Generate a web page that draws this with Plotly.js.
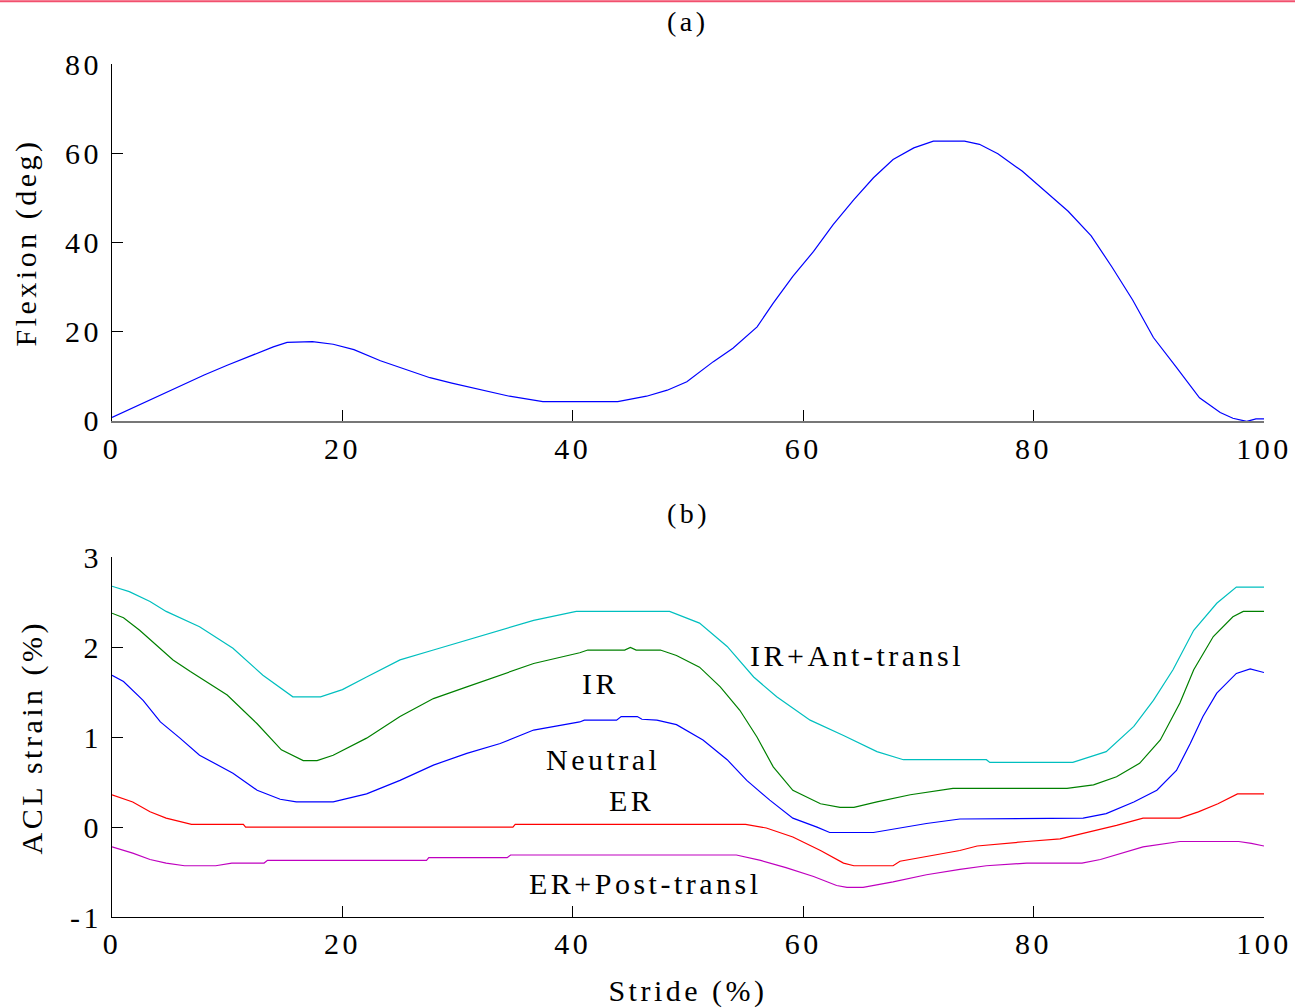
<!DOCTYPE html>
<html>
<head>
<meta charset="utf-8">
<script src="https://cdn.plot.ly/plotly-3.0.1.min.js"></script>
<style>
html, body { margin: 0; padding: 0; background: #fff; }
#plot { width: 1295px; height: 1008px; }
svg text { letter-spacing: 3.5px; }
</style>
</head>
<body>
<div id="plot"></div>
<script>
// ---- Data ----
const strideTop = [0, 2, 4, 6, 8, 10, 12, 14, 15.2, 17.4, 19.2, 21, 23.3, 25.5, 27.6, 29.5, 31.9, 34.5, 37.4, 43.9, 46.4, 48.2, 49.9, 52.2, 53.9, 56, 57.4, 59.1, 60.9, 62.6, 64.4, 66.1, 67.8, 69.6, 71.3, 74, 75.3, 76.9, 79, 81, 83, 85, 86.8, 88.6, 90.4, 92.4, 94.4, 96.2, 97.3, 98.5, 99.3, 100];
const flexion = [0.8, 3.2, 5.6, 8.0, 10.3, 12.5, 14.6, 16.6, 17.6, 17.8, 17.2, 16.0, 13.5, 11.5, 9.7, 8.5, 7.05, 5.55, 4.36, 4.36, 5.55, 6.9, 8.8, 13.3, 16.3, 21.1, 26.4, 32.4, 38.0, 44.0, 49.6, 54.5, 58.6, 61.2, 62.7, 62.7, 62.0, 59.9, 56, 51.5, 47, 41.5, 34.5, 27.1, 18.7, 12.0, 5.2, 1.9, 0.6, -0.1, 0.45, 0.45];

const strideIRAnt = [0, 1.5, 3.3, 4.7, 7.6, 10.5, 13.1, 15.7, 18.1, 20, 22.1, 25, 27.9, 30.8, 33.7, 36.6, 40.3, 48.4, 51, 53.4, 55.7, 57.7, 60.6, 63.5, 66.4, 68.7, 75.9, 76.2, 83.4, 86.3, 88.7, 90.4, 92.1, 93.9, 95.9, 97.6, 100];
const strainIRAnt = [2.68, 2.62, 2.51, 2.40, 2.23, 1.99, 1.69, 1.45, 1.45, 1.53, 1.67, 1.86, 1.97, 2.08, 2.19, 2.30, 2.40, 2.40, 2.27, 2.01, 1.67, 1.45, 1.19, 1.02, 0.84, 0.75, 0.75, 0.72, 0.72, 0.84, 1.12, 1.41, 1.75, 2.19, 2.49, 2.67, 2.67];

const strideIR = [0, 1, 2.4, 5.3, 6.8, 10, 12.6, 14.7, 16.6, 17.8, 19.2, 22.1, 25, 27.9, 30.8, 33.7, 36.6, 40.6, 41.3, 44.5, 45, 45.5, 47.6, 49, 51, 52.8, 54.5, 56, 57.4, 59.1, 61.5, 63.2, 64.4, 66.4, 69.3, 73, 82.9, 85.2, 87.2, 89.2, 91, 92.7, 93.9, 95.6, 97.3, 98.2, 100];
const strainIR = [2.38, 2.33, 2.19, 1.86, 1.73, 1.47, 1.15, 0.86, 0.74, 0.74, 0.80, 0.99, 1.23, 1.43, 1.56, 1.69, 1.82, 1.94, 1.97, 1.97, 2.0, 1.97, 1.97, 1.91, 1.78, 1.56, 1.30, 1.00, 0.67, 0.41, 0.26, 0.22, 0.22, 0.28, 0.36, 0.43, 0.43, 0.47, 0.56, 0.71, 0.97, 1.38, 1.75, 2.12, 2.34, 2.40, 2.40];

const strideNeutral = [0, 1, 2.7, 4.2, 5.9, 7.6, 10.5, 12.6, 14.6, 16, 19.2, 22.1, 25, 27.9, 30.8, 33.7, 36.6, 40.6, 41, 43.8, 44.2, 45.6, 46, 47.3, 49, 51.3, 53.4, 55.1, 57.1, 59.1, 61.2, 62.3, 66.1, 67.8, 70.7, 73.6, 84.3, 86.3, 88.7, 90.7, 92.4, 93.6, 94.7, 95.9, 97.6, 98.8, 100];
const strainNeutral = [1.69, 1.62, 1.41, 1.17, 0.99, 0.80, 0.60, 0.41, 0.31, 0.28, 0.28, 0.37, 0.52, 0.69, 0.82, 0.93, 1.08, 1.17, 1.19, 1.19, 1.23, 1.23, 1.20, 1.19, 1.14, 0.97, 0.75, 0.52, 0.30, 0.10, 0.0, -0.06, -0.06, -0.02, 0.04, 0.09, 0.10, 0.15, 0.28, 0.41, 0.63, 0.93, 1.23, 1.49, 1.71, 1.76, 1.72];

const strideER = [0, 1.8, 3.3, 4.7, 6.9, 11.4, 11.6, 34.8, 35, 55, 56.8, 59.1, 61.5, 63.5, 64.4, 67.8, 68.4, 70.7, 73.6, 75.1, 77.4, 79.4, 82.3, 84.9, 87.2, 89.5, 92.7, 94.3, 96, 97.7, 100];
const strainER = [0.36, 0.28, 0.17, 0.10, 0.03, 0.03, 0.0, 0.0, 0.03, 0.03, -0.01, -0.11, -0.26, -0.40, -0.43, -0.43, -0.38, -0.33, -0.26, -0.21, -0.18, -0.16, -0.13, -0.05, 0.02, 0.10, 0.10, 0.17, 0.26, 0.37, 0.37];

const strideERPost = [0, 1.8, 3.3, 4.7, 6.3, 9, 10.4, 13.2, 13.5, 27.3, 27.5, 34.3, 34.6, 54.2, 56.3, 58.5, 60.9, 62.9, 63.8, 65.2, 67.8, 70.7, 73.6, 75.9, 79.4, 84.2, 85.8, 87.2, 89.5, 92.7, 97.8, 98.9, 100];
const strainERPost = [-0.22, -0.29, -0.36, -0.40, -0.43, -0.43, -0.40, -0.40, -0.37, -0.37, -0.34, -0.34, -0.31, -0.31, -0.37, -0.45, -0.55, -0.65, -0.67, -0.67, -0.61, -0.53, -0.47, -0.43, -0.40, -0.40, -0.36, -0.31, -0.22, -0.16, -0.16, -0.18, -0.21];

const xTicks = [0, 20, 40, 60, 80, 100];
const yTicksTop = [0, 20, 40, 60, 80];
const yTicksBottom = [-1, 0, 1, 2, 3];
const yTickTextBottom = ["-1", "0", "1", "2", "3"];

const curveLabels = ["IR+Ant-transl", "IR", "Neutral", "ER", "ER+Post-transl"];
const labelX = [55.2, 42.4, 42.6, 45.1, 46.3];
const labelY = [1.91, 1.60, 0.75, 0.30, -0.63];
const labelAnchor = ["left", "center", "center", "center", "center"];

// ---- Figure ----
const FONT = "Times New Roman, Liberation Serif, DejaVu Serif, serif";
const line = (c) => ({ color: c, width: 1.2 });

const traces = [
  { x: strideTop, y: flexion, xaxis: "x", yaxis: "y", mode: "lines", line: line("#0000ff"), name: "Flexion" },
  { x: strideIRAnt, y: strainIRAnt, xaxis: "x2", yaxis: "y2", mode: "lines", line: line("#00bfbf"), name: curveLabels[0] },
  { x: strideIR, y: strainIR, xaxis: "x2", yaxis: "y2", mode: "lines", line: line("#008000"), name: curveLabels[1] },
  { x: strideNeutral, y: strainNeutral, xaxis: "x2", yaxis: "y2", mode: "lines", line: line("#0000ff"), name: curveLabels[2] },
  { x: strideER, y: strainER, xaxis: "x2", yaxis: "y2", mode: "lines", line: line("#ff0000"), name: curveLabels[3] },
  { x: strideERPost, y: strainERPost, xaxis: "x2", yaxis: "y2", mode: "lines", line: line("#bf00bf"), name: curveLabels[4] }
];

const axisCommon = {
  showgrid: false, zeroline: false, showline: true, linecolor: "#000", linewidth: 1,
  ticks: "inside", ticklen: 11, tickwidth: 1, tickcolor: "#000",
  tickfont: { family: FONT, size: 30, color: "#000" }, fixedrange: true
};

const annotations = curveLabels.map((t, i) => ({
  text: t, x: labelX[i], y: labelY[i], xref: "x2", yref: "y2",
  xanchor: labelAnchor[i], yanchor: "middle", showarrow: false,
  font: { family: FONT, size: 30, color: "#000" }
}));
annotations.push(
  { text: "(a)", xref: "paper", yref: "paper", x: 0.5, y: 1.05, xanchor: "center", yanchor: "middle", showarrow: false, font: { family: FONT, size: 28, color: "#000" } },
  { text: "(b)", xref: "paper", yref: "paper", x: 0.5, y: 0.473, xanchor: "center", yanchor: "middle", showarrow: false, font: { family: FONT, size: 28, color: "#000" } }
);

const layout = {
  width: 1295, height: 1008,
  margin: { l: 112, r: 31, t: 64, b: 91 },
  paper_bgcolor: "#fff", plot_bgcolor: "#fff",
  showlegend: false,
  font: { family: FONT, size: 30, color: "#000" },
  xaxis: Object.assign({}, axisCommon, { domain: [0, 1], range: [0, 100], tickvals: xTicks, anchor: "y", linecolor: "#777", linewidth: 2, ticklabelstandoff: 0 }),
  yaxis: Object.assign({}, axisCommon, { domain: [0.5815, 1], range: [0, 80], tickvals: yTicksTop, anchor: "x", ticklabelstandoff: 3,
    title: { text: "Flexion (deg)", font: { family: FONT, size: 30, color: "#000" }, standoff: 19 } }),
  xaxis2: Object.assign({}, axisCommon, { domain: [0, 1], range: [0, 100], tickvals: xTicks, anchor: "y2", ticklabelstandoff: 0,
    title: { text: "Stride (%)", font: { family: FONT, size: 30, color: "#000" }, standoff: 25 } }),
  yaxis2: Object.assign({}, axisCommon, { domain: [0, 0.4215], range: [-1, 3], tickvals: yTicksBottom, ticktext: yTickTextBottom, anchor: "x2", ticklabelstandoff: 3,
    title: { text: "ACL strain (%)", font: { family: FONT, size: 30, color: "#000" }, standoff: 18 } }),
  annotations: annotations,
  shapes: [
    { type: "line", xref: "paper", yref: "paper", x0: -0.2, x1: 1.2, y0: 1.0737, y1: 1.0737, line: { color: "#f2506e", width: 2 } }
  ]
};

Plotly.newPlot("plot", traces, layout, { staticPlot: true, displayModeBar: false });
</script>
</body>
</html>
